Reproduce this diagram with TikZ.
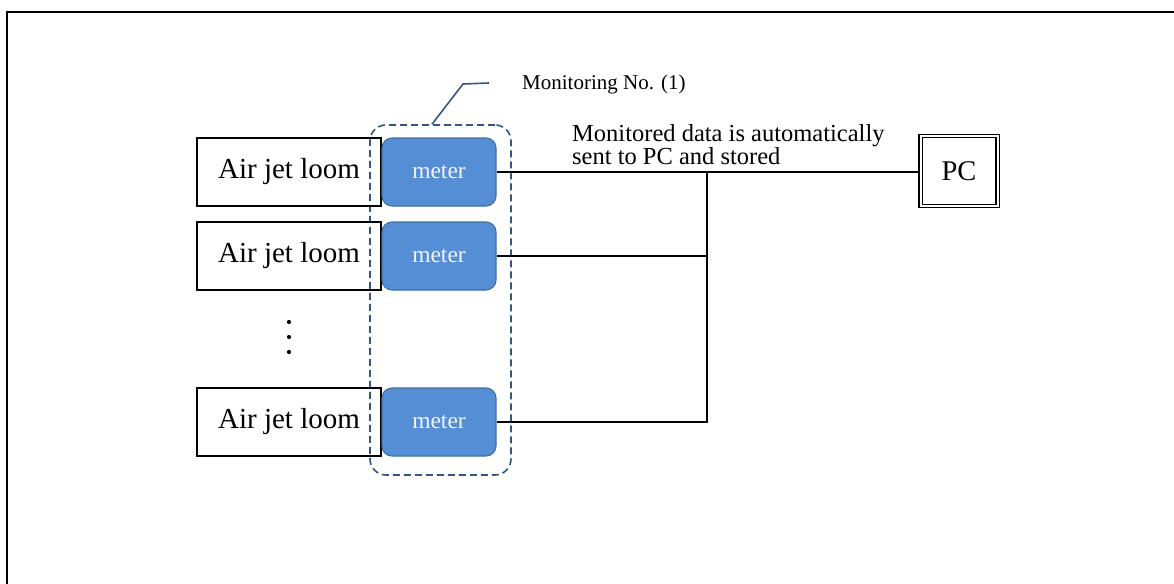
\documentclass[tikz,border=0pt]{standalone}
\usepackage{fontspec}
\setmainfont{Liberation Serif}
\definecolor{meterfill}{RGB}{85,142,213}
\definecolor{meterborder}{RGB}{65,113,156}
\definecolor{grpblue}{RGB}{50,87,132}
\definecolor{metertext}{RGB}{240,245,252}
\begin{document}
\begin{tikzpicture}[x=1pt,y=-1pt,
  loombox/.style={draw, line width=1.1pt, minimum width=184pt, minimum height=68pt, inner sep=0pt, font=\fontsize{29}{30}\selectfont},
  meterbox/.style={draw=meterborder, fill=meterfill, rounded corners=10pt, line width=1.1pt, minimum width=114pt, minimum height=68pt, inner sep=0pt, text=metertext, font=\fontsize{23.5}{24}\selectfont},
  pcbox/.style={draw, double, double distance=2pt, line width=1.1pt, minimum width=77pt, minimum height=70pt, inner sep=0pt, font=\fontsize{28.5}{30}\selectfont},
  grpbox/.style={draw=grpblue, line width=1.6pt, dash pattern=on 7pt off 4pt, rounded corners=16pt, minimum width=141pt, minimum height=350pt, inner sep=0pt},
  conn/.style={line width=1.8pt, black},
  callout/.style={draw=grpblue, line width=1.6pt},
  lbl/.style={inner sep=0pt}
]
\useasboundingbox (0,0) rectangle (1174,583);
\fill[white] (0,0) rectangle (1174,583);
% frame
\draw[line width=2pt] (7,590) -- (7,12) -- (1180,12);

% group
\node[grpbox] (grp) at (440.5,300) {};

% looms
\node[loombox] (l1) at (289,172) {Air jet loom};
\node[loombox] (l2) at (289,256) {Air jet loom};
\node[loombox] (l3) at (289,422) {Air jet loom};

% meters
\node[meterbox] (m1) at (439,172) {meter};
\node[meterbox] (m2) at (439,256) {meter};
\node[meterbox] (m3) at (439,422) {meter};

% dots
\fill (289,322) circle (2.1pt);
\fill (289,337) circle (2.1pt);
\fill (289,352) circle (2.1pt);

% PC
\node[pcbox] (pc) at (959,171) {PC};

% connectors
\coordinate (j) at (707,172);
\draw[conn] (m1.east) -- (m1.east -| pc.west);
\draw[conn] (j) -- (j |- m3.east) -- (m3.east);
\draw[conn] (m2.east) -- (m2.east -| j);

% callout
\coordinate (c1) at (463,84);
\coordinate (c2) at (489,83);
\draw[callout] ([xshift=-8.5pt]grp.north) -- (c1) -- (c2);
\node[lbl, anchor=base west, font=\fontsize{21}{22}\selectfont] (mon) at (522,90) {Monitoring No. (1)};

% text
\node[lbl, anchor=north west, align=left, font=\fontsize{24.5}{23.5}\selectfont] (txt) at (572,124) {Monitored data is automatically\\sent to PC and stored};
\end{tikzpicture}
\end{document}
